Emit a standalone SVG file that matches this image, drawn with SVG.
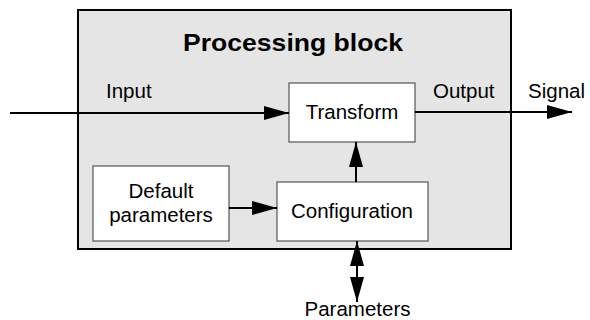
<svg xmlns="http://www.w3.org/2000/svg" width="590" height="320" viewBox="0 0 590 320">
  <style>
    .frame { fill: #e5e5e5; stroke: #000; stroke-width: 2; }
    .box { fill: #fff; stroke: #555; stroke-width: 1.2; }
    .lbl { font-family: "Liberation Sans", Arial, sans-serif; font-size: 20.5px; fill: #000; }
    .title { font-family: "Liberation Sans", Arial, sans-serif; font-size: 24px; font-weight: bold; fill: #000; }
    .wire { stroke: #000; stroke-width: 2; fill: none; marker-end: url(#head); }
  </style>
  <defs>
    <marker id="head" markerUnits="userSpaceOnUse" markerWidth="26" markerHeight="14" refX="25" refY="7" orient="auto-start-reverse" viewBox="0 0 26 14">
      <path d="M0,0 L25,7 L0,14 Z" fill="#000"/>
    </marker>
  </defs>

  <!-- enclosing block -->
  <g id="processing-block">
    <rect class="frame" x="78" y="10" width="433" height="239"/>
    <text class="title" x="293" y="51" text-anchor="middle" textLength="220" lengthAdjust="spacingAndGlyphs">Processing block</text>
  </g>

  <g id="transform">
    <rect class="box" x="289" y="83" width="126" height="59"/>
    <text class="lbl" x="352" y="119" text-anchor="middle">Transform</text>
  </g>

  <g id="default-parameters">
    <rect class="box" x="93" y="166" width="136" height="75"/>
    <text class="lbl" x="161" y="198" text-anchor="middle">Default</text>
    <text class="lbl" x="161" y="222" text-anchor="middle">parameters</text>
  </g>

  <g id="configuration">
    <rect class="box" x="277" y="182" width="151" height="59"/>
    <text class="lbl" x="352" y="218" text-anchor="middle">Configuration</text>
  </g>

  <!-- connectors -->
  <g id="connectors">
    <line class="wire" x1="10" y1="113" x2="289" y2="113"/>
    <line class="wire" x1="415" y1="112" x2="572" y2="112"/>
    <line class="wire" x1="356" y1="182" x2="356" y2="142"/>
    <line class="wire" x1="229" y1="208" x2="277" y2="208"/>
    <line class="wire" x1="357" y1="241" x2="357" y2="302" style="marker-start: url(#head);"/>
  </g>

  <!-- edge labels -->
  <g id="labels">
    <text class="lbl" x="106" y="98">Input</text>
    <text class="lbl" x="433" y="98">Output</text>
    <text class="lbl" x="528" y="98">Signal</text>
    <text class="lbl" x="357.5" y="316" text-anchor="middle">Parameters</text>
  </g>
</svg>
